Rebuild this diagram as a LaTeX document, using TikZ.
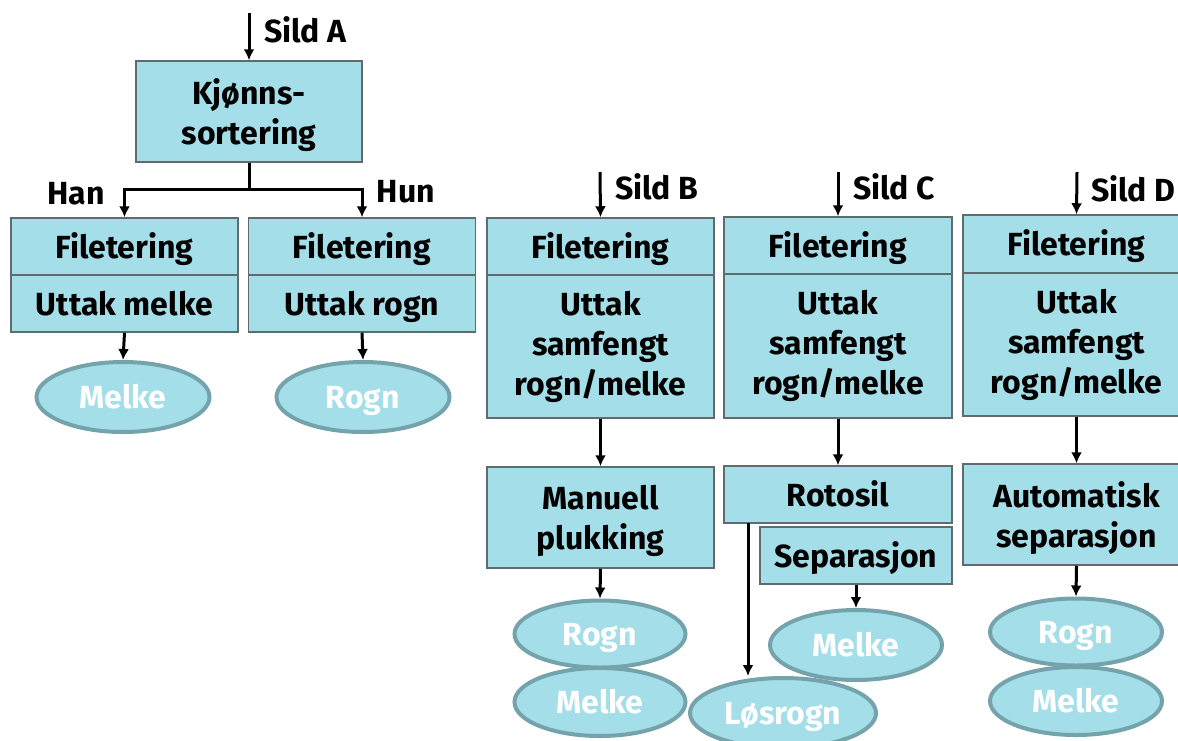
\documentclass[tikz,border=0pt]{standalone}
\usepackage{fontspec}
\setmainfont{Fira Sans}
\usetikzlibrary{shapes.geometric,arrows.meta}
\definecolor{cyanfill}{HTML}{A4DEE8}
\definecolor{boxline}{HTML}{5F6B6D}
\definecolor{ellline}{HTML}{74A3AC}
\tikzset{
  box/.style={draw=boxline, fill=cyanfill, line width=1.5pt, inner sep=0pt, align=center,
    font=\fontsize{32}{40}\selectfont\bfseries, minimum width=227pt},
  one/.style={text height=23pt, text depth=0pt},
  two/.style={text depth=0pt},
  prod/.style={ellipse, draw=ellline, fill=cyanfill, line width=4pt, inner sep=0pt,
    text=white, font=\fontsize{32}{36}\selectfont\bfseries, text height=23pt, text depth=0pt},
  lbl/.style={font=\fontsize{32}{36}\selectfont\bfseries, inner sep=0pt, text height=23pt, text depth=0pt},
  arr/.style={draw=black, line width=3pt, -{Latex[length=11pt,width=11pt]}},
}
\begin{document}
\begin{tikzpicture}[x=1pt,y=-1pt]
\useasboundingbox (0,0) rectangle (1178,740);
\clip (0,0) rectangle (1178,740);
% column A
\node[box, two, minimum width=226pt, minimum height=101pt] (kjonn) at (249,111.5) {Kjønns-\\sortering};
\node[box, one, minimum height=57pt] (hanF) at (124.5,246.5) {Filetering};
\node[box, one, minimum height=57pt] (hanU) at (124.5,303.5) {Uttak melke};
\node[box, one, minimum height=57pt] (hunF) at (362,246.5) {Filetering};
\node[box, one, minimum height=57pt] (hunU) at (362,303.5) {Uttak rogn};
\node[prod, minimum width=173pt, minimum height=70pt] (melkeA) at (123,397) {Melke};
\node[prod, minimum width=173pt, minimum height=70pt] (rognA) at (363,397) {Rogn};
\coordinate (inA) at (249,13);
\coordinate (junc) at (249,189);
\node[lbl, anchor=west] (sildA) at (264,31) {Sild A};
\node[lbl] (han) at (76,192.5) {Han};
\node[lbl] (hun) at (406,191) {Hun};
\draw[arr] (inA) -- (kjonn.north);
\draw[arr] (kjonn.south) -- (junc) -| (hanF.north);
\draw[arr] (junc) -| (hunF.north);
\draw[arr] (hanU.south) -- (melkeA.north);
\draw[arr] (hunU.south) -- (rognA.north);
% column B
\node[box, one, minimum height=57pt] (bF) at (600.5,246.5) {Filetering};
\node[box, minimum height=143pt] (bU) at (600.5,346.5) {Uttak\\samfengt\\rogn/melke};
\node[box, two, minimum height=101pt] (bM) at (600.5,517.5) {Manuell\\plukking};
\node[prod, minimum width=171pt, minimum height=67pt] (rognB) at (600,634) {Rogn};
\node[prod, minimum width=171pt, minimum height=68pt] (melkeB) at (600,702) {Melke};
\coordinate (inB) at (600,172);
\node[lbl, anchor=west] (sildB) at (615,188) {Sild B};
\draw[arr] (inB) -- (bF.north);
\draw[arr] (bU.south) -- (bM.north);
\draw[arr] (bM.south) -- (rognB.north);
% column C
\node[box, one, minimum width=228pt, minimum height=57pt] (cF) at (838,245.5) {Filetering};
\node[box, minimum width=228pt, minimum height=144pt] (cU) at (838,346) {Uttak\\samfengt\\rogn/melke};
\node[box, one, minimum width=228pt, minimum height=57pt] (rotosil) at (838,494.5) {Rotosil};
\node[box, one, minimum width=192pt, minimum height=57pt] (sep) at (856,555.5) {Separasjon};
\node[prod, minimum width=172pt, minimum height=70pt] (melkeC) at (856,645) {Melke};
\node[prod, minimum width=186pt, minimum height=70pt] (losrogn) at (783,713) {Løsrogn};
\coordinate (inC) at (838,172);
\coordinate (rotoOut) at (748,523);
\node[lbl, anchor=west] (sildC) at (853,188) {Sild C};
\draw[arr] (inC) -- (cF.north);
\draw[arr] (cU.south) -- (rotosil.north);
\draw[arr] (sep.south) -- (melkeC.north);
\draw[arr] (rotoOut) -- (rotoOut |- losrogn.north);
% column D
\node[box, one, minimum height=58pt] (dF) at (1076.5,244) {Filetering};
\node[box, minimum height=143pt] (dU) at (1076.5,344.5) {Uttak\\samfengt\\rogn/melke};
\node[box, two, minimum height=101pt] (dA) at (1076.5,514.5) {Automatisk\\separasjon};
\node[prod, minimum width=172pt, minimum height=67pt] (rognD) at (1076,632) {Rogn};
\node[prod, minimum width=172pt, minimum height=68pt] (melkeD) at (1076,701) {Melke};
\coordinate (inD) at (1077,172);
\node[lbl, anchor=west] (sildD) at (1091,190) {Sild D};
\draw[arr] (inD) -- (dF.north);
\draw[arr] (dU.south) -- (dA.north);
\draw[arr] (dA.south) -- (rognD.north);
\end{tikzpicture}
\end{document}
